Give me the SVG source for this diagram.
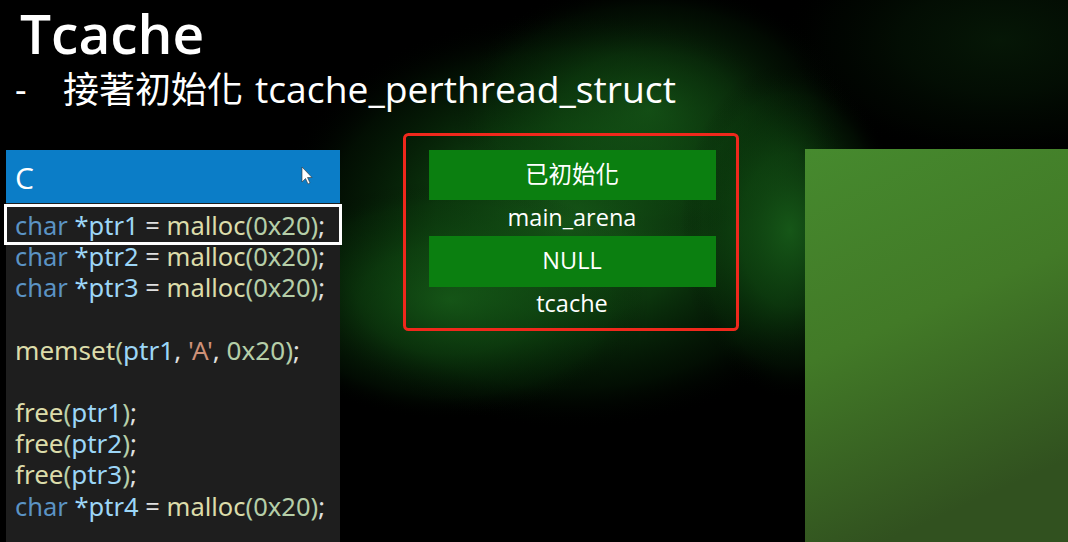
<svg xmlns="http://www.w3.org/2000/svg" width="1068" height="542" viewBox="0 0 1068 542">
<defs>
<style>
.ui{font-family:"Open Sans","Noto Sans","Noto Sans CJK TC",sans-serif;fill:#ffffff}
.cjk{font-family:"Noto Sans CJK TC","Noto Sans",sans-serif;fill:#ffffff}
.code{font-family:"Noto Sans","Open Sans",sans-serif;font-size:25px}
.kw{fill:#5b93c4}.var{fill:#9cd6f7}.op{fill:#e0e0e0}.fn{fill:#dcdcaa}.num{fill:#b5cea8}.str{fill:#ce9178}
.bar{fill:#0b7f10}
.lbl{font-size:23.5px;text-anchor:middle}
</style>
<radialGradient id="g1">
<stop offset="0" stop-color="#1a661c" stop-opacity="0.9"/>
<stop offset="0.45" stop-color="#125214" stop-opacity="0.65"/>
<stop offset="0.8" stop-color="#0a3a0c" stop-opacity="0.25"/>
<stop offset="1" stop-color="#000" stop-opacity="0"/>
</radialGradient>
<linearGradient id="panel" x1="0" y1="0" x2="0.3" y2="1">
<stop offset="0" stop-color="#468a2e"/>
<stop offset="0.5" stop-color="#427a27"/>
<stop offset="1" stop-color="#31511f"/>
</linearGradient>
</defs>
<rect width="1068" height="542" fill="#000"/>
<g id="background">
<ellipse cx="570" cy="220" rx="300" ry="210" fill="url(#g1)"/>
<ellipse cx="650" cy="110" rx="200" ry="130" fill="url(#g1)" opacity="0.7"/>
<ellipse cx="450" cy="300" rx="200" ry="120" fill="url(#g1)" opacity="0.8"/>
<ellipse cx="790" cy="230" rx="110" ry="170" fill="url(#g1)" opacity="0.9"/>
<ellipse cx="1000" cy="40" rx="220" ry="120" fill="url(#g1)" opacity="0.25"/>
</g>
<g id="title">
<text class="ui" x="20" y="54" font-size="55" font-weight="600">Tcache</text>
<text class="ui" x="15" y="103" font-size="36">-</text>
<text class="cjk" x="63" y="103" font-size="36">接著初始化</text>
<text class="ui" x="255" y="103" font-size="37" textLength="421" lengthAdjust="spacingAndGlyphs">tcache_perthread_struct</text>
</g>
<g id="code-panel">
<rect x="6" y="150" width="334" height="392" fill="#1e1e1e"/>
<rect x="6" y="150" width="334" height="53" fill="#0b7dc7"/>
<text class="ui" x="15" y="189" font-size="30">C</text>
<path d="M302 167 L302 182 L305.5 178.5 L308 184 L310 183 L307.5 177.5 L312 177.5 Z" fill="#fff" stroke="#333" stroke-width="0.6"/>
<rect x="5.5" y="205.5" width="335" height="38" fill="none" stroke="#ffffff" stroke-width="3"/>
<text class="code" x="15" y="235" textLength="310" lengthAdjust="spacingAndGlyphs"><tspan class="kw">char</tspan> <tspan class="var">*ptr1</tspan> <tspan class="op">=</tspan> <tspan class="fn">malloc</tspan><tspan class="num">(0x20)</tspan><tspan class="op">;</tspan></text>
<text class="code" x="15" y="266" textLength="310" lengthAdjust="spacingAndGlyphs"><tspan class="kw">char</tspan> <tspan class="var">*ptr2</tspan> <tspan class="op">=</tspan> <tspan class="fn">malloc</tspan><tspan class="num">(0x20)</tspan><tspan class="op">;</tspan></text>
<text class="code" x="15" y="297" textLength="310" lengthAdjust="spacingAndGlyphs"><tspan class="kw">char</tspan> <tspan class="var">*ptr3</tspan> <tspan class="op">=</tspan> <tspan class="fn">malloc</tspan><tspan class="num">(0x20)</tspan><tspan class="op">;</tspan></text>
<text class="code" x="15" y="360" textLength="285" lengthAdjust="spacingAndGlyphs"><tspan class="fn">memset</tspan><tspan class="num">(</tspan><tspan class="var">ptr1</tspan><tspan class="op">, </tspan><tspan class="str">'A'</tspan><tspan class="op">, </tspan><tspan class="num">0x20)</tspan><tspan class="op">;</tspan></text>
<text class="code" x="15" y="422" textLength="122" lengthAdjust="spacingAndGlyphs"><tspan class="fn">free</tspan><tspan class="num">(</tspan><tspan class="var">ptr1</tspan><tspan class="num">)</tspan><tspan class="op">;</tspan></text>
<text class="code" x="15" y="453" textLength="122" lengthAdjust="spacingAndGlyphs"><tspan class="fn">free</tspan><tspan class="num">(</tspan><tspan class="var">ptr2</tspan><tspan class="num">)</tspan><tspan class="op">;</tspan></text>
<text class="code" x="15" y="484" textLength="122" lengthAdjust="spacingAndGlyphs"><tspan class="fn">free</tspan><tspan class="num">(</tspan><tspan class="var">ptr3</tspan><tspan class="num">)</tspan><tspan class="op">;</tspan></text>
<text class="code" x="15" y="516" textLength="310" lengthAdjust="spacingAndGlyphs"><tspan class="kw">char</tspan> <tspan class="var">*ptr4</tspan> <tspan class="op">=</tspan> <tspan class="fn">malloc</tspan><tspan class="num">(0x20)</tspan><tspan class="op">;</tspan></text>
</g>
<g id="struct-box">
<rect x="404.5" y="134.5" width="333" height="195" rx="4" fill="none" stroke="#f0281c" stroke-width="3"/>
<g id="main-arena">
<rect class="bar" x="429" y="150" width="287" height="50"/>
<text class="cjk lbl" x="572" y="183">已初始化</text>
<text class="ui lbl" x="572" y="226">main_arena</text>
</g>
<g id="tcache">
<rect class="bar" x="429" y="236" width="287" height="51"/>
<text class="ui lbl" x="572" y="269">NULL</text>
<text class="ui lbl" x="572" y="312">tcache</text>
</g>
</g>
<g id="right-panel">
<rect x="805" y="149" width="263" height="393" fill="url(#panel)"/>
</g>
</svg>
